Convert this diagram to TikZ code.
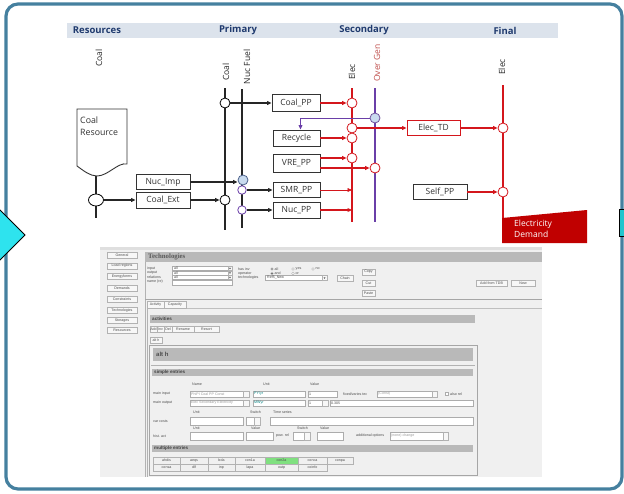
\documentclass[tikz,border=0pt]{standalone}
\usepackage{fontspec}
\usetikzlibrary{arrows.meta,shapes.geometric}
\newfontfamily\dfont{Open Sans}
\newfontfamily\gfont{Liberation Sans}
\newfontfamily\tfont{Liberation Serif}
\definecolor{navy}{HTML}{1F3A6E}
\definecolor{hdrbg}{HTML}{DCE3EC}
\definecolor{redc}{HTML}{D4161C}
\definecolor{purp}{HTML}{6A3FA8}
\definecolor{ogtxt}{HTML}{C0504D}
\definecolor{framec}{HTML}{45809F}
\definecolor{cyanc}{HTML}{2EE3EE}
\definecolor{demred}{HTML}{C00000}
\definecolor{guibg}{HTML}{F0F0F0}
\definecolor{guibar}{HTML}{B9B9B9}
\definecolor{ltblue}{HTML}{C9DBEF}
\definecolor{grn}{HTML}{80E080}
\begin{document}
\begin{tikzpicture}[x=1pt,y=-1pt,
  arrb/.style={-{Triangle[length=4.5pt,width=3.8pt]}, line width=1.1pt},
  arr/.style={arrb, color=black!85},
  rarr/.style={arrb, color=redc},
  parr/.style={arrb, color=purp, line width=1pt},
  box/.style={draw=black!80, line width=0.9pt, fill=white, inner sep=0pt,
    font=\dfont\fontsize{8.5}{10}\selectfont, text=black!80},
  rbox/.style={box, draw=redc},
  circ/.style={circle, draw=black, fill=white, line width=0.8pt, minimum size=10pt, inner sep=0pt},
  rcirc/.style={circ, draw=redc},
  vlab/.style={rotate=90, font=\dfont\fontsize{8.5}{10}\selectfont, text=black!85, inner sep=0pt},
  hlab/.style={font=\dfont\bfseries\fontsize{9.5}{11}\selectfont, text=navy, inner sep=0pt},
  bus/.style={line width=1.6pt, black!85},
  gl/.style={font=\gfont\fontsize{3.6}{4}\selectfont, text=black!70, inner sep=0pt, anchor=west},
  gb/.style={font=\gfont\bfseries\fontsize{4.6}{5}\selectfont, text=black!75, inner sep=0pt, anchor=west},
  fld/.style={draw=gray!65, fill=white, line width=0.35pt},
  btn/.style={draw=gray!60, fill=gray!6, line width=0.35pt},
  gbar/.style={fill=guibar}
]
\useasboundingbox (0,0) rectangle (624,493);
\fill[white] (0,0) rectangle (624,493);

% frame
\draw[framec, line width=3.2pt, rounded corners=12pt] (6,4) rectangle (622,489);

% header
\fill[hdrbg] (67,23) rectangle (558,38);
\node[hlab] (hRes) at (97,30.5) {Resources};
\node[hlab] (hPri) at (238,30.5) {Primary};
\node[hlab] (hSec) at (364,30.5) {Secondary};
\node[hlab] (hFin) at (505,30.5) {Final};

% vertical labels
\node[vlab] (lCoalR) at (99,58) {Coal};
\node[vlab] (lCoalP) at (226,72) {Coal};
\node[vlab] (lNuc) at (247,67) {Nuc Fuel};
\node[vlab] (lElecS) at (352,72) {Elec};
\node[vlab, text=ogtxt] (lOG) at (377,63) {Over Gen};
\node[vlab] (lElecF) at (502,67) {Elec};

% bus coordinates
\coordinate (docbot) at (96,176);
\coordinate (resEnd) at (96,218);
\coordinate (coalT) at (225,88);
\coordinate (coalB) at (225,230);
\coordinate (nucT) at (242,89);
\coordinate (nucB) at (242,228);
\coordinate (elecT) at (352,88);
\coordinate (elecB) at (352,222);
\coordinate (ogT) at (375,88);
\coordinate (ogB) at (375,222);
\coordinate (finT) at (503,85);
\coordinate (finB) at (503,218);

\draw[bus] (docbot) -- (resEnd);
\draw[bus] (coalT) -- (coalB);
\draw[bus] (nucT) -- (nucB);
\draw[line width=1.8pt, redc] (elecT) -- (elecB);
\draw[line width=1.4pt, purp] (ogT) -- (ogB);
\draw[line width=1.8pt, redc] (finT) -- (finB);

% Coal resource document shape
\draw[line width=0.9pt, draw=black!80, fill=white] (77,109) -- (127,109) -- (127,164)
  .. controls (118,162) and (108,176) .. (97,176)
  .. controls (90,176) and (84,171) .. (77,166) -- cycle;
\node[anchor=north west, align=left, inner sep=0pt, text=black!80,
  font=\dfont\fontsize{8.8}{12}\selectfont] (CoalRes) at (80,117) {Coal\\Resource};

% Electricity demand
\fill[demred] (502,218) -- (587,210) -- (587,243) -- (502,243) -- cycle;
\node[anchor=north west, align=left, inner sep=0pt, text=white,
  font=\dfont\fontsize{8.5}{11}\selectfont] (ED) at (514,220) {Electricity\\Demand};

% circles
\node[circ, ellipse, minimum width=15pt, minimum height=12pt] (rc) at (96,200) {};
\node[circ] (pc1) at (225,103) {};
\node[circ] (pc2) at (225,200) {};
\node[circ, fill=ltblue, draw=navy!80] (nf1) at (243,180) {};
\node[circ, draw=purp, minimum size=8.5pt] (nf2) at (242,190) {};
\node[circ, draw=purp, minimum size=8.5pt] (nf3) at (242,210) {};
\node[rcirc] (e1) at (352,103) {};
\node[rcirc] (e2) at (352,128) {};
\node[rcirc] (e3) at (352,138) {};
\node[rcirc] (e4) at (352,158) {};
\node[circ, fill=ltblue, draw=purp!70!gray] (og1) at (375,118) {};
\node[rcirc] (og2) at (375,168) {};
\node[rcirc] (f1) at (503,128) {};
\node[rcirc] (f2) at (503,192) {};

% boxes
\node[box, minimum width=54pt, minimum height=15pt] (NucImp) at (163,182) {Nuc\_Imp};
\node[box, minimum width=54pt, minimum height=16pt] (CoalExt) at (163,200) {Coal\_Ext};
\node[box, minimum width=48pt, minimum height=17pt] (CoalPP) at (296,103) {Coal\_PP};
\node[box, minimum width=47pt, minimum height=16pt] (Recycle) at (296.5,138) {Recycle};
\node[box, minimum width=47pt, minimum height=18pt] (VREPP) at (296.5,163) {VRE\_PP};
\node[box, minimum width=47pt, minimum height=15pt] (SMRPP) at (296.5,190) {SMR\_PP};
\node[box, minimum width=47pt, minimum height=16pt] (NucPP) at (296.5,210) {Nuc\_PP};
\node[rbox, minimum width=53pt, minimum height=15pt] (ElecTD) at (433.5,128) {Elec\_TD};
\node[box, minimum width=54pt, minimum height=15pt] (SelfPP) at (440,192) {Self\_PP};

% arrows
\draw[arr] (rc.east) -- (CoalExt.west);
\draw[arr] (CoalExt.east) -- (pc2.west);
\draw[arr] (NucImp.east) -- (NucImp.east -| nf1.west);
\draw[arr] (pc1.east) -- (CoalPP.west);
\draw[arr] (nf2.east) -- (SMRPP.west);
\draw[arr] (nf3.east) -- (NucPP.west);
\draw[rarr] (CoalPP.east) -- (e1.west);
\draw[rarr] (Recycle.east) -- (e3.west);
\draw[rarr] (VREPP.east |- e4) -- (e4.west);
\draw[rarr] (VREPP.east |- og2) -- (og2.west);
\draw[rarr, line width=0.6pt] (SMRPP.east) -- (SMRPP.east -| elecB);
\draw[rarr] (NucPP.east) -- (NucPP.east -| elecB);
\draw[rarr] (e2.east) -- (ElecTD.west);
\draw[rarr] (ElecTD.east) -- (f1.west);
\draw[rarr] (SelfPP.east) -- (f2.west);
\draw[parr] (og1.west) -| ([xshift=4pt]Recycle.north);

% side decorations
\draw[black, line width=1pt, fill=cyanc] (-5,205) -- (25,235) -- (-5,265) -- cycle;
\draw[black, line width=1pt, fill=cyanc!70!teal] (619.5,209) rectangle (630,236);

% ===== GUI screenshot =====
\fill[guibg] (100,247) rectangle (542,477);
\fill[gray!25] (100,247) rectangle (542,250);
\foreach \t/\y [count=\i] in {General/255.5, Load regions/266, Energyforms/276.5, Demands/288,
  Constraints/299.5, Technologies/310.5, Storages/320.5, Resources/330}{
  \draw[btn] (107,\y-3) rectangle (137,\y+3);
  \node[gl, anchor=center] (nav\i) at (122,\y) {\t};
}
\draw[gray!60, line width=0.4pt] (145,262) -- (145,477);
\fill[gbar] (145,252) rectangle (542,262);
\node[anchor=west, inner sep=0pt, text=black!65, font=\tfont\bfseries\fontsize{6.8}{7}\selectfont] (ttl) at (148,257) {Technologies};

% filters
\node[gl] (gIn) at (147,268.5) {input};
\node[gl] (gOut) at (147,273) {output};
\node[gl] (gRel) at (147,277.5) {relations};
\node[gl] (gNm) at (147,282) {name (re)};
\foreach \y [count=\i] in {268.5,273,277.5}{
  \draw[fld] (172,\y-2) rectangle (232,\y+2);
  \draw[btn] (228,\y-2) rectangle (232,\y+2);
  \fill[black!70] (229,\y-0.7) -- (231,\y-0.7) -- (230,\y+0.8) -- cycle;
  \node[gl] (gAll\i) at (174,\y) {all};
}
\draw[fld] (172,280.5) rectangle (232,285);
\node[gl] (gHas) at (238,269) {has inv};
\node[gl] (gOp) at (238,273.5) {operator};
\node[gl] (gTec) at (238,278) {technologies};
\foreach \x/\t [count=\i] in {272/all,293/yes,313/no}{
  \draw[fld] (\x,269) circle (1.3);
  \node[gl] (gR\i) at (\x+2.5,269) {\t};
}
\fill[black] (272,269) circle (0.6);
\foreach \x/\t [count=\i] in {272/and,293/or}{
  \draw[fld] (\x,273.5) circle (1.3);
  \node[gl] (gO\i) at (\x+2.5,273.5) {\t};
}
\fill[black] (272,273.5) circle (0.6);
\draw[fld] (265,275.5) rectangle (327,280.5);
\draw[btn] (322,275.5) rectangle (327,280.5);
\fill[black!70] (323.5,277.3) -- (325.5,277.3) -- (324.5,278.8) -- cycle;
\node[gl] (gRef) at (267,278) {Ref5\_New};
\draw[btn] (337,275) rectangle (353,281);
\node[gl, anchor=center] (gChain) at (345,278) {Chain};
\draw[btn] (362,269) rectangle (375,275);
\node[gl, anchor=center] (gCopy) at (368.5,272) {Copy};
\draw[btn] (362,280) rectangle (375,286);
\node[gl, anchor=center] (gCut) at (368.5,283) {Cut};
\draw[btn] (362,290) rectangle (375,296);
\node[gl, anchor=center] (gPaste) at (368.5,293) {Paste};
\draw[btn] (476,280) rectangle (507,286);
\node[gl, anchor=center] (gAdd) at (491.5,283) {Add from TDB};
\draw[btn] (511,280) rectangle (535,286);
\node[gl, anchor=center] (gNew) at (523,283) {New};
\draw[gray!70, line width=0.5pt] (145,299) -- (542,299);
\draw[gray!50, line width=0.4pt] (186,308) -- (542,308);

% tabs
\draw[btn] (147,301) rectangle (164,308);
\node[gl, anchor=center] (gAct) at (155.5,304.5) {Activity};
\draw[btn] (164,301) rectangle (186,308);
\node[gl, anchor=center] (gCap) at (175,304.5) {Capacity};
\draw[gray!60, line width=0.4pt] (147,308) -- (147,477);

% activities
\fill[gbar] (150,315) rectangle (475,323);
\node[gb] (gActs) at (152,319) {activities};
\foreach \a/\b/\t [count=\i] in {150/157/Add,157/164/Inv,164/172/Del,172/194/Rename,194/219/Resort}{
  \draw[btn] (\a,326) rectangle (\b,332);
  \node[gl, anchor=center] (gA\i) at ({(\a+\b)/2},329) {\t};
}
\draw[btn] (150,337) rectangle (162,343);
\node[gl, anchor=center] (gAlt) at (156,340) {alt h};
\draw[gray!70, line width=0.4pt] (149,345) rectangle (477,475);
\fill[gbar] (153,348) rectangle (473,361);
\node[anchor=west, inner sep=0pt, text=black!70, font=\gfont\bfseries\fontsize{6}{7}\selectfont] (gAltH) at (156,354.5) {alt h};
\draw[gray!60, line width=0.4pt] (151,365) -- (475,365);

% simple entries
\fill[gbar] (152,369) rectangle (473,376);
\node[gb] (gSimple) at (154,372.5) {simple entries};
\node[gl] (gName) at (192,384) {Name};
\node[gl] (gUnit) at (263,384) {Unit};
\node[gl] (gVal) at (310,384) {Value};
% main input
\node[gl] (gMI) at (153,394) {main input};
\draw[fld] (190,391) rectangle (243,397);
\node[gl, text=gray!80] (gMIn) at (191,394) {PhiPI Coal PP Const};
\draw[btn] (243,391) rectangle (249,397);
\draw[fld] (253,391) rectangle (305,397);
\node[gl, text=teal] (gMIu) at (254,394) {PY/yr};
\draw[fld] (308,391) rectangle (337,397);
\node[gl] (gMIv) at (309,394) {1};
\node[gl] (gFix) at (343,394) {fixed/varies tec};
\draw[fld] (377,391) rectangle (437,397);
\node[gl, text=gray!80] (gConst) at (378,394) {(Const)};
\draw[btn] (432,391) rectangle (437,397);
\draw[fld] (445,392.5) rectangle (448,395.5);
\node[gl] (gAlso) at (450,394) {also rel};
% main output
\node[gl] (gMO) at (153,403) {main output};
\draw[fld] (190,400) rectangle (243,406);
\node[gl, text=gray!80] (gMOn) at (191,403) {Elec Secondary Electricity};
\draw[btn] (243,400) rectangle (249,406);
\draw[fld] (253,400) rectangle (305,406);
\node[gl, text=teal] (gMOu) at (254,403) {MWyr};
\draw[fld] (308,400) rectangle (322,406);
\node[gl] (gMOv) at (309,403) {1};
\draw[btn] (322,400) rectangle (328,406);
\draw[fld] (330,400) rectangle (473,406);
\node[gl] (gMOx) at (331,403) {0.305};
% var costs
\node[gl] (gU2) at (193,412) {Unit};
\node[gl] (gSw) at (250,412) {Switch};
\node[gl] (gTS) at (273,412) {Time series};
\node[gl] (gVC) at (153,421) {var costs};
\draw[fld] (190,417) rectangle (243,425);
\draw[fld] (246,417) rectangle (254,425);
\draw[btn] (254,417) rectangle (260,425);
\draw[fld] (270,417) rectangle (473,425);
% hist act
\node[gl] (gU3) at (193,428) {Unit};
\node[gl] (gV3) at (251,428) {Value};
\node[gl] (gS3) at (297,428) {Switch};
\node[gl] (gV4) at (320,428) {Value};
\node[gl] (gHA) at (153,436) {hist. act};
\draw[fld] (190,432) rectangle (243,440);
\draw[fld] (246,432) rectangle (273,440);
\node[gl] (gPow) at (276,436) {pow. rel};
\draw[fld] (293,432) rectangle (304,440);
\draw[btn] (304,432) rectangle (310,440);
\draw[fld] (317,432) rectangle (343,440);
\node[gl] (gAddOpt) at (356,436) {additional options};
\draw[fld] (390,432) rectangle (448,440);
\node[gl, text=gray!80] (gNone) at (391,436) {(none) change};
\draw[btn] (443,432) rectangle (448,440);
% multiple entries
\fill[gbar] (152,445) rectangle (473,452);
\node[gb] (gMult) at (154,448.5) {multiple entries};
\fill[grn] (265,457) rectangle (298,464);
\foreach \a/\b/\t [count=\i] in {153/180/ahdis,180/208/aeqs,208/235/bda,235/265/con1a,265/298/con2a,298/327/conca,327/353/conpa}{
  \draw[gray!60, line width=0.35pt] (\a,457) rectangle (\b,464);
  \node[gl, anchor=center] (gM\i) at ({(\a+\b)/2},460.5) {\t};
}
\foreach \a/\b/\t [count=\i] in {153/180/consa,180/208/dlf,208/235/inp,235/265/lapa,265/298/outp,298/327/coinfo}{
  \draw[gray!60, line width=0.35pt] (\a,464) rectangle (\b,471);
  \node[gl, anchor=center] (gN\i) at ({(\a+\b)/2},467.5) {\t};
}
\end{tikzpicture}
\end{document}
